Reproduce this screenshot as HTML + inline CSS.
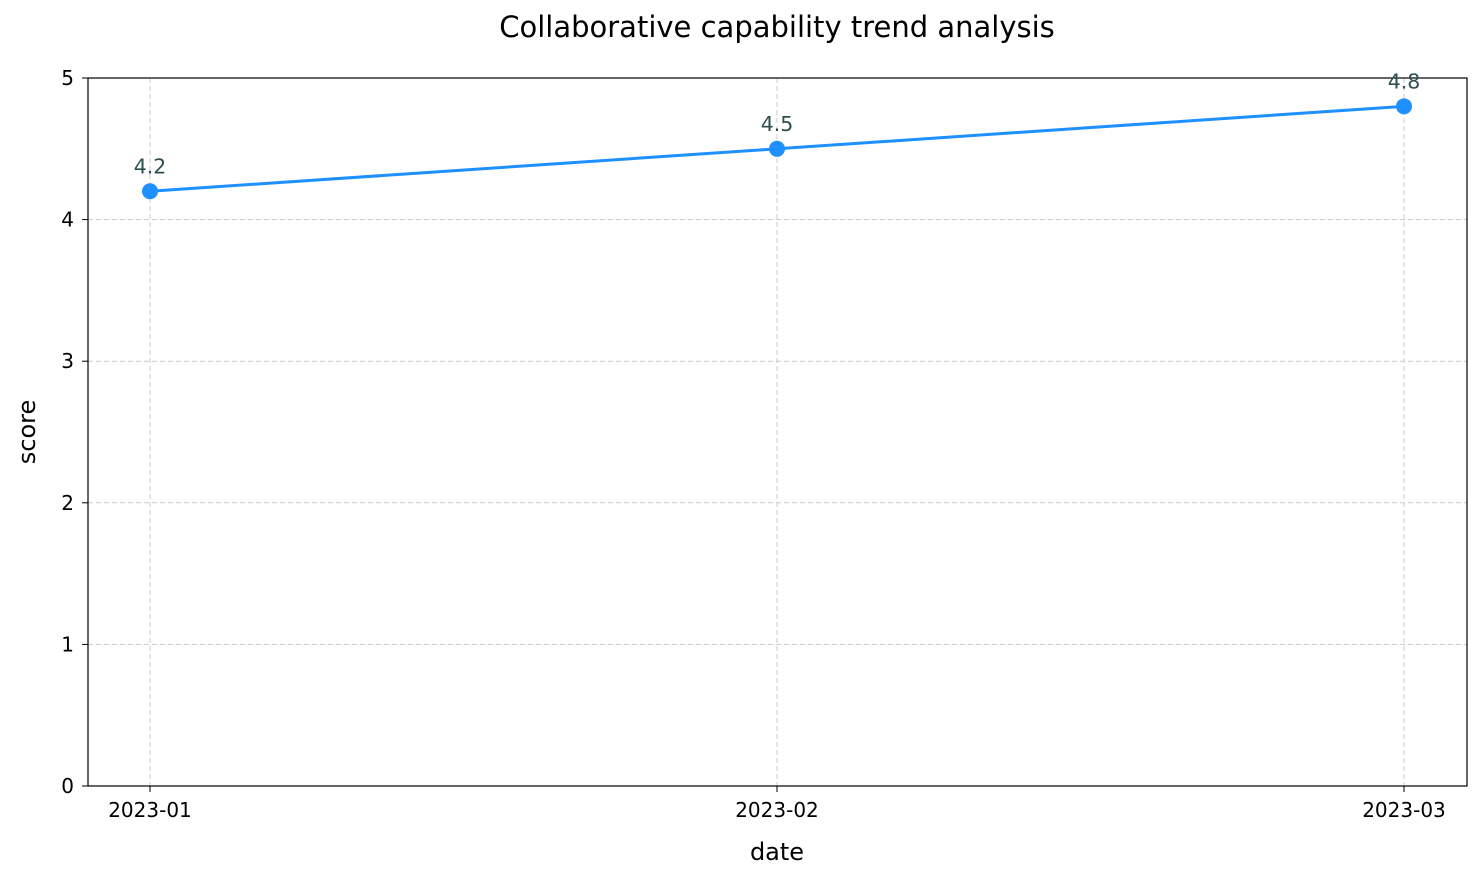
<!DOCTYPE html>
<html><head><meta charset="utf-8"><style>
html,body{margin:0;padding:0;background:#fff}
svg{display:block;font-family:"DejaVu Sans","Liberation Sans",sans-serif}
</style></head><body>
<svg id="chart" width="1481" height="880" xmlns="http://www.w3.org/2000/svg">
<rect width="1481" height="880" fill="#fff"/>
<text x="777" y="37" text-anchor="middle" style="font-size:29px" fill="#000">Collaborative capability trend analysis</text>
<g id="grid"></g>
<g id="axes"></g>
<g id="series"></g>
<text x="777" y="860" text-anchor="middle" style="font-size:24px" fill="#000">date</text>
<text transform="translate(35,432) rotate(-90)" text-anchor="middle" style="font-size:24px" fill="#000">score</text>
</svg>
<script>
const categories = ["2023-01","2023-02","2023-03"];
const scores = [4.2, 4.5, 4.8];
const yTicks = [0,1,2,3,4,5];

const L=88,R=1467,T=78,B=786,padL=62,padR=63;
const ns="http://www.w3.org/2000/svg";
function xScale(i){return L+padL+i*((R-padR)-(L+padL))/(categories.length-1);}
function yScale(v){return B-(v-0)/(5-0)*(B-T);}
function mk(tag,attrs,parent){const e=document.createElementNS(ns,tag);for(const k in attrs)e.setAttribute(k,attrs[k]);parent.appendChild(e);return e;}
const grid=document.getElementById('grid'),axes=document.getElementById('axes'),series=document.getElementById('series');

yTicks.forEach(v=>{
  const y=yScale(v);
  if(v>0&&v<5){const g=mk('line',{x1:L,x2:R,y1:y,y2:y,stroke:'#cccccc','stroke-width':1,'stroke-dasharray':'5,3'},grid);
  
  }
  const t=mk('line',{x1:L-6,x2:L,y1:y,y2:y,stroke:'#000','stroke-width':1},axes);
  
  
  const lb=mk('text',{x:L-14,y:y+7,'text-anchor':'end',style:'font-size:20px',fill:'#000'},axes);
  lb.textContent=v;
  
  
});
categories.forEach((c,i)=>{
  const x=xScale(i);
  const g=mk('line',{x1:x,x2:x,y1:T,y2:B,stroke:'#cccccc','stroke-width':1,'stroke-dasharray':'5,3'},grid);
  
  
  const t=mk('line',{x1:x,x2:x,y1:B,y2:B+6,stroke:'#000','stroke-width':1},axes);
  
  
  const lb=mk('text',{x:x,y:B+31,'text-anchor':'middle',style:'font-size:20px',fill:'#000'},axes);
  lb.textContent=c;
  
  
});
const frame=mk('rect',{x:L,y:T,width:R-L,height:B-T,fill:'none',stroke:'#000','stroke-width':1.2},axes);



const pts=scores.map((v,i)=>xScale(i)+','+yScale(v)).join(' ');
const line=mk('polyline',{points:pts,fill:'none',stroke:'#1e90ff','stroke-width':3},series);


scores.forEach((v,i)=>{
  const c=mk('circle',{cx:xScale(i),cy:yScale(v),r:8,fill:'#1e90ff'},series);
  
  
  const t=mk('text',{x:xScale(i),y:yScale(v)-18,'text-anchor':'middle',style:'font-size:20.5px',fill:'#2f4f4f'},series);
  t.textContent=v.toFixed(1);
  
  
});
</script>
</body></html>
